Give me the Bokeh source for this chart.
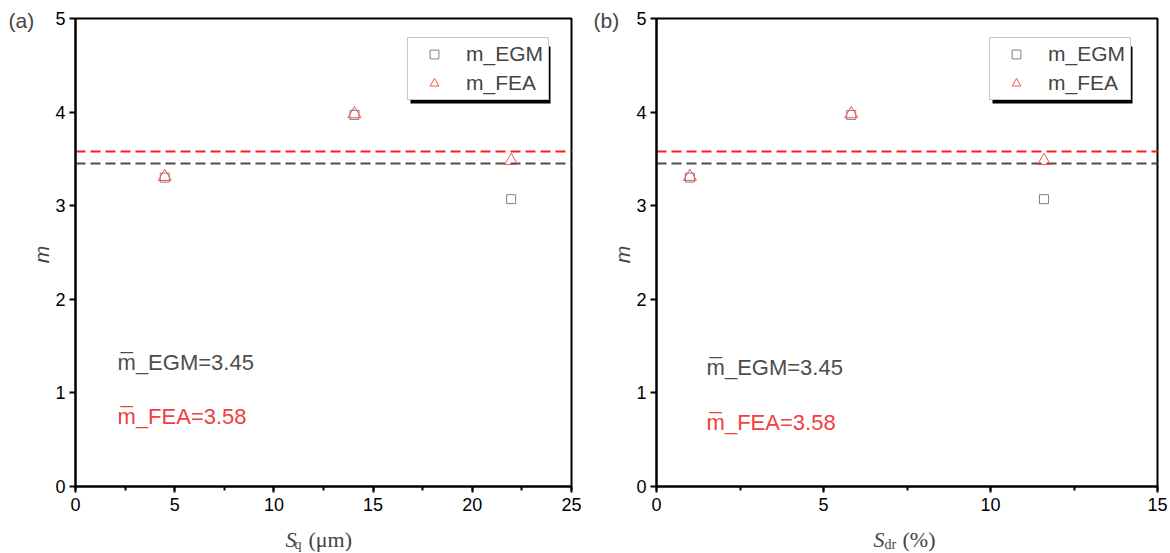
import math
from bokeh.plotting import figure
from bokeh.models import (Label, Legend, LegendItem, Range1d, BoxAnnotation, LinearAxis,
                          SingleIntervalTicker, FixedTicker)
from bokeh.layouts import row
from bokeh.embed import file_html
from bokeh.resources import INLINE

# ---- data ----
sq = [4.5, 14.06, 21.96]          # Sq (um)
sdr = [1.0, 5.83, 11.6]           # Sdr (%)
m_egm = [3.30, 3.97, 3.07]
m_fea = [3.31, 3.98, 3.48]
mean_egm = 3.45
mean_fea = 3.58
y_ticks = [0, 1, 2, 3, 4, 5]
legend_labels = ["m_EGM", "m_FEA"]
note_egm = "m\u0305_EGM=3.45"
note_fea = "m\u0305_FEA=3.58"

SANS = "Liberation Sans"
SERIF = "Liberation Serif"
GRAY = "#4d4d4d"
RED_LINE = "#ff1a1a"
RED_TXT = "#f04040"

W, H = 585, 553
FR_TOP, FR_BOT = 18, 486          # frame top / bottom pixel (from top)


def make_panel(xs, xmax, tag, sub, unit, fl, fr, note_pos, title_pos, leg_left):
    # the frame covers the whole canvas; axes are drawn at fixed data locations
    sx = (fr - fl) / xmax
    sy = (FR_BOT - FR_TOP) / 5.0
    xr = Range1d(-fl / sx, xmax + (W - fr) / sx)
    yr = Range1d(-(H - FR_BOT) / sy, 5 + FR_TOP / sy)
    p = figure(width=W, height=H, output_backend="svg", toolbar_location=None,
               x_range=xr, y_range=yr, x_axis_type=None, y_axis_type=None,
               min_border=0, min_border_left=0, min_border_right=0,
               min_border_top=0, min_border_bottom=0)
    p.grid.visible = False
    p.outline_line_color = None
    p.background_fill_color = "white"
    p.border_fill_color = "white"

    xaxis = LinearAxis(fixed_location=0, bounds=(0, xmax),
                       ticker=SingleIntervalTicker(interval=5, num_minor_ticks=2))
    yaxis = LinearAxis(fixed_location=0, bounds=(0, 5), ticker=FixedTicker(ticks=y_ticks))
    for ax in (xaxis, yaxis):
        ax.axis_line_width = 2
        ax.axis_line_color = "black"
        ax.major_tick_line_width = 2
        ax.major_tick_out = 6
        ax.major_tick_in = 0
        ax.minor_tick_line_width = 2
        ax.minor_tick_out = 4
        ax.minor_tick_in = 0
        ax.major_label_text_font = SANS
        ax.major_label_text_font_size = "18px"
        ax.major_label_text_color = "black"
    yaxis.minor_tick_out = 0
    xaxis.major_label_standoff = 5
    yaxis.major_label_standoff = 4
    p.add_layout(xaxis, "below")
    p.add_layout(yaxis, "left")

    # frame box (top / right edges)
    p.add_layout(BoxAnnotation(left=0, right=xmax, bottom=0, top=5, fill_alpha=0,
                               line_color="black", line_alpha=1, line_width=2,
                               level="underlay"))

    # mean lines
    p.segment(x0=0, x1=xmax, y0=mean_fea, y1=mean_fea, line_color=RED_LINE,
              line_width=2, line_dash="10 5")
    p.segment(x0=0, x1=xmax, y0=mean_egm, y1=mean_egm, line_color=GRAY,
              line_width=2, line_dash="10 5")

    r1 = p.scatter(xs, m_egm, marker="square", size=9, fill_color=None,
                   line_color="#808080", line_width=1)
    r2 = p.scatter(xs, m_fea, marker="triangle", size=13, fill_color=None,
                   line_color="#ff5050", line_width=1)

    # legend with shadow
    lw, lh = 140, 57
    ltop = H - 43
    p.add_layout(BoxAnnotation(left=leg_left + 3, right=leg_left + lw + 3,
                               bottom=ltop - lh - 3, top=ltop - 3,
                               left_units="screen", right_units="screen",
                               bottom_units="screen", top_units="screen",
                               fill_color="black", fill_alpha=1, line_color=None))
    leg = Legend(items=[LegendItem(label=legend_labels[0], renderers=[r1]),
                        LegendItem(label=legend_labels[1], renderers=[r2])],
                 location=(leg_left, ltop - lh), padding=4, spacing=5, margin=0,
                 glyph_width=44, glyph_height=22, label_height=22, label_width=78,
                 label_standoff=10,
                 label_text_font=SANS, label_text_font_size="21px",
                 border_line_color="#909090", border_line_width=1,
                 background_fill_color="white", background_fill_alpha=1)
    p.add_layout(leg)

    # mean annotations
    nx, ny1, ny2 = note_pos
    p.add_layout(Label(x=nx, y=ny1, text=note_egm, text_font=SANS, text_font_size="22px",
                       text_color=GRAY, text_baseline="middle"))
    p.add_layout(Label(x=nx, y=ny2, text=note_fea, text_font=SANS, text_font_size="22px",
                       text_color=RED_TXT, text_baseline="middle"))

    # panel tag
    p.add_layout(Label(x=8, y=H - 20, x_units="screen", y_units="screen", text=tag,
                       text_font=SANS, text_font_size="21px", text_baseline="middle"))

    # y axis title
    p.add_layout(Label(x=fl - 34, y=H - 254, x_units="screen", y_units="screen", text="m",
                       text_font=SANS, text_font_style="italic", text_font_size="21px",
                       angle=math.pi / 2, text_align="center", text_baseline="middle"))

    # x axis title (italic S, subscript, unit)
    tx, sub_dx, unit_dx = title_pos
    yb = H - 539
    p.add_layout(Label(x=tx, y=yb, x_units="screen", y_units="screen", text="S",
                       text_font=SERIF, text_font_style="italic", text_font_size="22px",
                       text_baseline="alphabetic"))
    p.add_layout(Label(x=tx + sub_dx, y=yb - 5, x_units="screen", y_units="screen", text=sub,
                       text_font=SERIF, text_font_size="14px", text_baseline="alphabetic"))
    p.add_layout(Label(x=tx + unit_dx, y=yb, x_units="screen", y_units="screen",
                       text=unit, text_font=SERIF, text_font_size="22px",
                       text_baseline="alphabetic"))
    return p


pa = make_panel(sq, 25, "(a)", "q", "(\u03bcm)", 75, 571, (2.12, 1.325, 0.748),
                (285, 9, 23), 407)
pb = make_panel(sdr, 15, "(b)", "dr", "(%)", 71, 572, (1.5, 1.27, 0.684),
                (288, 11, 29), 404)

layout = row(pa, pb)
open("out.html", "w").write(file_html(layout, INLINE))
